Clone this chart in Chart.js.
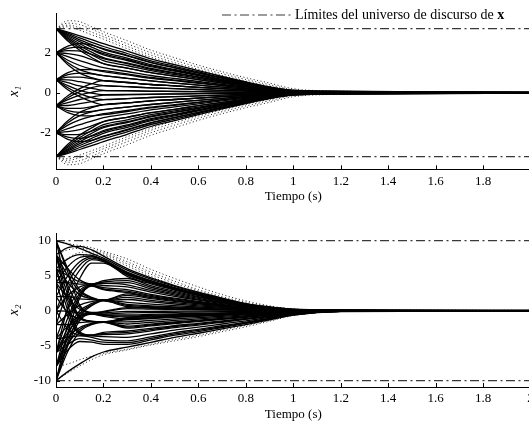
<!DOCTYPE html>
<html>
<head>
<meta charset="utf-8">
<script src="https://cdn.jsdelivr.net/npm/chart.js@4"></script>
<style>
  html, body { margin: 0; padding: 0; background: #fff; overflow: hidden; width: 529px; height: 422px; }
  canvas { position: absolute; left: 0; }
  #graficoX1 { top: 0; }
  #graficoX2 { top: 215px; }
</style>
</head>
<body>
<canvas id="graficoX1" width="545" height="206"></canvas>
<canvas id="graficoX2" width="545" height="207"></canvas>
<script>
// Eje de tiempo comun (s) y marcas
const tiempo = [0, 0.05, 0.1, 0.15, 0.2, 0.3, 0.4, 0.5, 0.6, 0.7, 0.8, 0.9, 1.0, 1.2, 1.5, 2.0];
const ticksTiempo = [0, 0.2, 0.4, 0.6, 0.8, 1, 1.2, 1.4, 1.6, 1.8, 2];
const ticksX1 = [-2, 0, 2];
const ticksX2 = [-10, -5, 0, 5, 10];
const limiteX1 = 3.2;
const limiteX2 = 10;
const textoLeyenda = "Límites del universo de discurso de";
const vectorLeyenda = "x";

// x1: trayectorias agrupadas por condicion inicial
const x1Desde32 = [
  [3.2, 3.03, 2.84, 2.65, 2.45, 2.08, 1.69, 1.4, 1.1, 0.81, 0.54, 0.29, 0.12, 0.07, 0.05, 0.03],
  [3.2, 2.98, 2.74, 2.52, 2.31, 1.96, 1.59, 1.32, 1.04, 0.76, 0.51, 0.28, 0.11, 0.065, 0.045, 0.025],
  [3.2, 2.92, 2.64, 2.40, 2.17, 1.84, 1.5, 1.24, 0.98, 0.72, 0.48, 0.26, 0.1, 0.06, 0.04, 0.02],
  [3.2, 2.86, 2.55, 2.28, 2.03, 1.73, 1.4, 1.16, 0.91, 0.67, 0.45, 0.24, 0.08, 0.02, 0.01, 0],
  [3.2, 2.80, 2.45, 2.15, 1.89, 1.61, 1.3, 1.08, 0.85, 0.62, 0.42, 0.23, 0.08, 0.02, 0.01, 0],
  [3.2, 2.73, 2.35, 2.03, 1.75, 1.49, 1.21, 1.0, 0.79, 0.58, 0.39, 0.21, 0.07, 0.02, 0.01, 0],
  [3.2, 2.66, 2.24, 1.9, 1.6, 1.36, 1.1, 0.91, 0.72, 0.53, 0.35, 0.19, 0.06, 0.02, 0.01, 0],
  [3.2, 2.58, 2.12, 1.76, 1.45, 1.23, 1.0, 0.83, 0.65, 0.48, 0.32, 0.17, 0.06, 0.01, 0.01, 0]
];
const x1Desde2 = [
  [2, 2.33, 2.45, 2.38, 2.2, 1.87, 1.52, 1.25, 0.99, 0.73, 0.48, 0.26, 0.09, 0.03, 0.01, 0],
  [2, 2.22, 2.28, 2.17, 1.95, 1.66, 1.35, 1.11, 0.88, 0.64, 0.43, 0.23, 0.08, 0.02, 0.01, 0],
  [2, 2.1, 2.08, 1.92, 1.7, 1.45, 1.17, 0.97, 0.77, 0.56, 0.37, 0.2, 0.07, 0.02, 0.01, 0],
  [2, 1.95, 1.85, 1.66, 1.45, 1.23, 1.0, 0.83, 0.65, 0.48, 0.32, 0.17, 0.06, 0.01, 0.01, 0],
  [2, 1.8, 1.6, 1.42, 1.25, 1.06, 0.86, 0.71, 0.56, 0.41, 0.28, 0.15, 0.05, 0.01, 0, 0],
  [2, 1.62, 1.36, 1.18, 1.05, 0.89, 0.72, 0.6, 0.47, 0.35, 0.23, 0.13, 0.04, 0.01, 0, 0],
  [2, 1.5, 1.15, 0.96, 0.85, 0.72, 0.59, 0.48, 0.38, 0.28, 0.19, 0.1, 0.03, 0.01, 0, 0],
  [2, 1.4, 0.98, 0.75, 0.6, 0.51, 0.41, 0.34, 0.27, 0.2, 0.13, 0.07, 0.02, 0.01, 0, 0]
];
const x1Desde065 = [
  [0.65, 1.0, 1.15, 1.16, 1.1, 0.94, 0.76, 0.63, 0.5, 0.36, 0.24, 0.13, 0.04, 0.01, 0, 0],
  [0.65, 0.9, 0.98, 0.94, 0.85, 0.72, 0.59, 0.48, 0.38, 0.28, 0.19, 0.1, 0.03, 0.01, 0, 0],
  [0.65, 0.78, 0.78, 0.7, 0.6, 0.51, 0.41, 0.34, 0.27, 0.2, 0.13, 0.07, 0.02, 0.01, 0, 0],
  [0.65, 0.64, 0.55, 0.45, 0.35, 0.3, 0.24, 0.2, 0.16, 0.12, 0.08, 0.04, 0.01, 0, 0, 0],
  [0.65, 0.5, 0.34, 0.22, 0.12, 0.1, 0.08, 0.07, 0.05, 0.04, 0.03, 0.01, 0, 0, 0, 0],
  [0.65, 0.35, 0.12, -0.02, -0.1, -0.09, -0.07, -0.06, -0.05, -0.03, -0.02, -0.01, 0, 0, 0, 0],
  [0.65, 0.25, -0.05, -0.25, -0.35, -0.3, -0.24, -0.2, -0.16, -0.12, -0.08, -0.04, -0.01, 0, 0, 0],
  [0.65, 0.15, -0.2, -0.45, -0.6, -0.51, -0.41, -0.34, -0.27, -0.2, -0.13, -0.07, -0.02, -0.01, 0, 0]
];
const x1DesdeM065 = [
  [-0.65, -1.0, -1.15, -1.16, -1.1, -0.94, -0.76, -0.63, -0.5, -0.36, -0.24, -0.13, -0.04, -0.01, 0, 0],
  [-0.65, -0.9, -0.98, -0.94, -0.85, -0.72, -0.59, -0.48, -0.38, -0.28, -0.19, -0.1, -0.03, -0.01, 0, 0],
  [-0.65, -0.78, -0.78, -0.7, -0.6, -0.51, -0.41, -0.34, -0.27, -0.2, -0.13, -0.07, -0.02, -0.01, 0, 0],
  [-0.65, -0.64, -0.55, -0.45, -0.35, -0.3, -0.24, -0.2, -0.16, -0.12, -0.08, -0.04, -0.01, 0, 0, 0],
  [-0.65, -0.5, -0.34, -0.22, -0.12, -0.1, -0.08, -0.07, -0.05, -0.04, -0.03, -0.01, 0, 0, 0, 0],
  [-0.65, -0.35, -0.12, 0.02, 0.1, 0.09, 0.07, 0.06, 0.05, 0.03, 0.02, 0.01, 0, 0, 0, 0],
  [-0.65, -0.25, 0.05, 0.25, 0.35, 0.3, 0.24, 0.2, 0.16, 0.12, 0.08, 0.04, 0.01, 0, 0, 0],
  [-0.65, -0.15, 0.2, 0.45, 0.6, 0.51, 0.41, 0.34, 0.27, 0.2, 0.13, 0.07, 0.02, 0.01, 0, 0]
];
const x1DesdeM2 = [
  [-2, -2.33, -2.45, -2.38, -2.2, -1.87, -1.52, -1.25, -0.99, -0.73, -0.48, -0.26, -0.09, -0.03, -0.01, 0],
  [-2, -2.22, -2.28, -2.17, -1.95, -1.66, -1.35, -1.11, -0.88, -0.64, -0.43, -0.23, -0.08, -0.02, -0.01, 0],
  [-2, -2.1, -2.08, -1.92, -1.7, -1.45, -1.17, -0.97, -0.77, -0.56, -0.37, -0.2, -0.07, -0.02, -0.01, 0],
  [-2, -1.95, -1.85, -1.66, -1.45, -1.23, -1.0, -0.83, -0.65, -0.48, -0.32, -0.17, -0.06, -0.01, -0.01, 0],
  [-2, -1.8, -1.6, -1.42, -1.25, -1.06, -0.86, -0.71, -0.56, -0.41, -0.28, -0.15, -0.05, -0.01, 0, 0],
  [-2, -1.62, -1.36, -1.18, -1.05, -0.89, -0.72, -0.6, -0.47, -0.35, -0.23, -0.13, -0.04, -0.01, 0, 0],
  [-2, -1.5, -1.15, -0.96, -0.85, -0.72, -0.59, -0.48, -0.38, -0.28, -0.19, -0.1, -0.03, -0.01, 0, 0],
  [-2, -1.4, -0.98, -0.75, -0.6, -0.51, -0.41, -0.34, -0.27, -0.2, -0.13, -0.07, -0.02, -0.01, 0, 0]
];
const x1DesdeM32 = [
  [-3.2, -3.03, -2.84, -2.65, -2.45, -2.08, -1.69, -1.4, -1.1, -0.81, -0.54, -0.29, -0.12, -0.07, -0.05, -0.03],
  [-3.2, -2.98, -2.74, -2.52, -2.31, -1.96, -1.59, -1.32, -1.04, -0.76, -0.51, -0.28, -0.11, -0.065, -0.045, -0.025],
  [-3.2, -2.92, -2.64, -2.40, -2.17, -1.84, -1.5, -1.24, -0.98, -0.72, -0.48, -0.26, -0.1, -0.06, -0.04, -0.02],
  [-3.2, -2.86, -2.55, -2.28, -2.03, -1.73, -1.4, -1.16, -0.91, -0.67, -0.45, -0.24, -0.08, -0.02, -0.01, 0],
  [-3.2, -2.80, -2.45, -2.15, -1.89, -1.61, -1.3, -1.08, -0.85, -0.62, -0.42, -0.23, -0.08, -0.02, -0.01, 0],
  [-3.2, -2.73, -2.35, -2.03, -1.75, -1.49, -1.21, -1.0, -0.79, -0.58, -0.39, -0.21, -0.07, -0.02, -0.01, 0],
  [-3.2, -2.66, -2.24, -1.9, -1.6, -1.36, -1.1, -0.91, -0.72, -0.53, -0.35, -0.19, -0.06, -0.02, -0.01, 0],
  [-3.2, -2.58, -2.12, -1.76, -1.45, -1.23, -1.0, -0.83, -0.65, -0.48, -0.32, -0.17, -0.06, -0.01, -0.01, 0]
];
// x1: trayectorias que salen de los limites (punteadas)
const x1Fuera = [
  [3.2, 3.6, 3.55, 3.3, 3.05, 2.6, 2.13, 1.75, 1.38, 1.05, 0.75, 0.48, 0.2, 0.08, 0.05, 0.03],
  [3.2, 3.48, 3.4, 3.18, 2.92, 2.45, 2.0, 1.62, 1.27, 0.95, 0.66, 0.4, 0.15, 0.075, 0.05, 0.03],
  [3.2, 3.38, 3.25, 3.03, 2.8, 2.32, 1.88, 1.5, 1.17, 0.86, 0.58, 0.33, 0.13, 0.07, 0.045, 0.025],
  [3.2, 3.3, 3.12, 2.9, 2.68, 2.2, 1.78, 1.4, 1.08, 0.78, 0.51, 0.27, 0.12, 0.065, 0.04, 0.02],
  [-3.2, -3.6, -3.55, -3.3, -3.05, -2.6, -2.13, -1.75, -1.38, -1.05, -0.75, -0.48, -0.2, -0.08, -0.05, -0.03],
  [-3.2, -3.48, -3.4, -3.18, -2.92, -2.45, -2.0, -1.62, -1.27, -0.95, -0.66, -0.4, -0.15, -0.075, -0.05, -0.03],
  [-3.2, -3.38, -3.25, -3.03, -2.8, -2.32, -1.88, -1.5, -1.17, -0.86, -0.58, -0.33, -0.13, -0.07, -0.045, -0.025],
  [-3.2, -3.3, -3.12, -2.9, -2.68, -2.2, -1.78, -1.4, -1.08, -0.78, -0.51, -0.27, -0.12, -0.065, -0.04, -0.02]
];

// x2: trayectorias agrupadas por el haz al que convergen
const x2GrupoA = [
  [10, 9.5, 8.9, 8.2, 7.5, 5.8, 4.52, 3.48, 2.55, 1.74, 0.99, 0.5, 0.2, 0.1, 0.07, 0.05],
  [8, 9.0, 9.2, 8.7, 7.8, 6.0, 4.68, 3.6, 2.64, 1.8, 1.02, 0.55, 0.22, 0.11, 0.08, 0.05],
  [6, 7.4, 8.0, 7.9, 7.3, 5.5, 4.29, 3.3, 2.42, 1.65, 0.94, 0.48, 0.19, 0.09, 0.06, 0.04],
  [4, 6.3, 7.6, 7.8, 7.25, 5.4, 4.21, 3.24, 2.38, 1.62, 0.92, 0.43, 0.13, 0.03, 0.01, 0],
  [2, 5.0, 7.0, 7.7, 7.2, 5.3, 4.13, 3.18, 2.33, 1.59, 0.9, 0.42, 0.13, 0.03, 0.01, 0],
  [0, 4.0, 6.5, 7.5, 7.1, 5.2, 4.06, 3.12, 2.29, 1.56, 0.88, 0.41, 0.13, 0.03, 0.01, 0],
  [-2, 2.8, 5.8, 7.3, 7.0, 5.1, 3.98, 3.06, 2.24, 1.53, 0.87, 0.41, 0.13, 0.03, 0.01, 0],
  [-6, 0.5, 4.6, 6.8, 6.8, 4.9, 3.82, 2.94, 2.16, 1.47, 0.83, 0.39, 0.12, 0.02, 0, 0]
];
const x2GrupoB = [
  [8, 6.0, 4.4, 3.8, 4.3, 4.6, 3.59, 2.76, 2.02, 1.38, 0.78, 0.37, 0.12, 0.02, 0, 0],
  [4, 4.0, 3.8, 3.8, 4.1, 4.3, 3.35, 2.58, 1.89, 1.29, 0.73, 0.34, 0.11, 0.02, 0, 0],
  [0, 2.2, 3.4, 3.8, 3.9, 4.0, 3.12, 2.4, 1.76, 1.2, 0.68, 0.32, 0.1, 0.02, 0, 0],
  [6, 5.0, 4.1, 3.75, 3.9, 3.7, 2.89, 2.22, 1.63, 1.11, 0.63, 0.3, 0.09, 0.02, 0, 0],
  [-4, 0.2, 2.9, 3.7, 3.6, 3.4, 2.65, 2.04, 1.5, 1.02, 0.58, 0.27, 0.09, 0.02, 0, 0],
  [-8, -2.0, 2.2, 3.6, 3.3, 3.0, 2.34, 1.8, 1.32, 0.9, 0.51, 0.24, 0.08, 0.02, 0, 0],
  [-6, -1.0, 2.5, 3.6, 3.1, 2.8, 2.18, 1.68, 1.23, 0.84, 0.48, 0.22, 0.07, 0.01, 0, 0],
  [-10, -3.2, 1.8, 3.5, 3.0, 2.6, 2.03, 1.56, 1.14, 0.78, 0.44, 0.21, 0.07, 0.01, 0, 0]
];
const x2GrupoC = [
  [8, 5.0, 2.7, 1.8, 1.5, 2.4, 1.87, 1.44, 1.06, 0.72, 0.41, 0.19, 0.06, 0.01, 0, 0],
  [10, 6.0, 3.0, 1.9, 1.5, 2.2, 1.72, 1.32, 0.97, 0.66, 0.37, 0.18, 0.06, 0.01, 0, 0],
  [6, 4.0, 2.3, 1.7, 1.5, 1.9, 1.48, 1.14, 0.84, 0.57, 0.32, 0.15, 0.05, 0.01, 0, 0],
  [2, 2.0, 1.7, 1.6, 1.5, 1.6, 1.25, 0.96, 0.7, 0.48, 0.27, 0.13, 0.04, 0.01, 0, 0],
  [-2, -0.5, 0.8, 1.3, 1.5, 1.2, 0.94, 0.72, 0.53, 0.36, 0.2, 0.1, 0.03, 0.01, 0, 0],
  [-6, -2.5, 0.0, 1.0, 1.5, 0.9, 0.7, 0.54, 0.4, 0.27, 0.15, 0.07, 0.02, 0, 0, 0],
  [-8, -3.5, -0.4, 0.85, 1.45, 0.75, 0.59, 0.45, 0.33, 0.23, 0.13, 0.06, 0.02, 0, 0, 0],
  [-10, -4.5, -0.8, 0.7, 1.4, 0.6, 0.47, 0.36, 0.26, 0.18, 0.1, 0.05, 0.02, 0, 0, 0]
];
const x2GrupoD = [
  [10, 5.5, 0.8, -0.25, -0.1, 0.45, 0.35, 0.27, 0.2, 0.14, 0.08, 0.04, 0.01, 0, 0, 0],
  [8, 3.6, 0.5, -0.3, -0.2, 0.3, 0.23, 0.18, 0.13, 0.09, 0.05, 0.02, 0.01, 0, 0, 0],
  [4, 1.8, 0.2, -0.35, -0.3, -0.1, -0.09, -0.07, -0.06, -0.05, -0.04, -0.03, -0.01, 0, 0, 0],
  [0, -0.1, -0.3, -0.4, -0.45, -0.3, -0.26, -0.22, -0.19, -0.15, -0.11, -0.08, -0.04, -0.01, 0, 0],
  [-4, -2.2, -0.7, -0.4, -0.55, -0.6, -0.52, -0.44, -0.37, -0.3, -0.23, -0.15, -0.07, -0.01, 0, 0],
  [-6, -3.1, -0.9, -0.42, -0.62, -0.75, -0.65, -0.55, -0.47, -0.38, -0.29, -0.19, -0.09, -0.02, 0, 0],
  [-8, -4.0, -1.1, -0.45, -0.7, -0.9, -0.78, -0.66, -0.56, -0.45, -0.34, -0.23, -0.11, -0.02, 0, 0],
  [-10, -5.0, -1.4, -0.5, -0.8, -1.2, -1.04, -0.88, -0.74, -0.6, -0.46, -0.3, -0.14, -0.02, 0, 0]
];
const x2GrupoE = [
  [10, 3.0, -0.8, -1.5, -1.6, -1.0, -0.87, -0.73, -0.62, -0.5, -0.38, -0.25, -0.12, -0.02, 0, 0],
  [8, 2.2, -0.9, -1.52, -1.6, -1.15, -1.0, -0.84, -0.71, -0.58, -0.44, -0.29, -0.14, -0.02, 0, 0],
  [6, 1.5, -1.0, -1.55, -1.6, -1.3, -1.13, -0.95, -0.81, -0.65, -0.49, -0.33, -0.16, -0.03, 0, 0],
  [2, -0.3, -1.2, -1.55, -1.6, -1.6, -1.39, -1.17, -0.99, -0.8, -0.61, -0.4, -0.19, -0.03, 0, 0],
  [-2, -2.0, -1.7, -1.6, -1.6, -1.9, -1.65, -1.39, -1.18, -0.95, -0.72, -0.48, -0.23, -0.04, -0.01, 0],
  [-6, -3.8, -2.4, -1.8, -1.6, -2.2, -1.91, -1.61, -1.36, -1.1, -0.84, -0.55, -0.26, -0.04, -0.01, 0],
  [-8, -4.8, -2.7, -1.9, -1.62, -2.35, -2.04, -1.72, -1.46, -1.18, -0.89, -0.59, -0.28, -0.05, -0.01, 0],
  [-10, -5.8, -3.0, -2.0, -1.65, -2.5, -2.18, -1.83, -1.55, -1.25, -0.95, -0.63, -0.3, -0.05, -0.01, 0]
];
const x2GrupoF = [
  [8, 0.8, -3.0, -3.5, -3.1, -2.9, -2.52, -2.12, -1.8, -1.45, -1.1, -0.73, -0.35, -0.06, -0.01, 0],
  [6, 0.0, -3.2, -3.5, -3.25, -3.1, -2.7, -2.26, -1.92, -1.55, -1.18, -0.78, -0.37, -0.07, -0.01, 0],
  [4, -0.8, -3.3, -3.5, -3.4, -3.3, -2.87, -2.41, -2.05, -1.65, -1.25, -0.83, -0.4, -0.07, -0.01, 0],
  [0, -2.6, -3.5, -3.6, -3.7, -3.8, -3.31, -2.77, -2.36, -1.9, -1.44, -0.95, -0.46, -0.08, -0.01, 0],
  [-4, -3.8, -3.6, -3.8, -4.2, -4.3, -3.74, -3.14, -2.67, -2.15, -1.63, -1.08, -0.52, -0.1, -0.06, -0.04],
  [-6, -4.8, -4.0, -4.2, -4.5, -4.55, -3.96, -3.32, -2.82, -2.28, -1.73, -1.14, -0.55, -0.1, -0.05, -0.03],
  [-8, -5.6, -4.4, -4.5, -4.8, -4.8, -4.18, -3.5, -2.98, -2.4, -1.82, -1.2, -0.58, -0.11, -0.07, -0.05],
  [-10, -8.7, -7.6, -6.6, -5.9, -5.2, -4.52, -3.8, -3.22, -2.6, -1.98, -1.3, -0.62, -0.12, -0.08, -0.05]
];
// x2: trayectorias que salen de los limites (punteadas)
const x2Fuera = [
  [10, 9.6, 9.3, 9.0, 8.5, 7.4, 5.9, 4.6, 3.4, 2.3, 1.4, 0.7, 0.25, 0.1, 0.07, 0.04],
  [8, 8.7, 8.9, 8.7, 8.3, 7.0, 5.5, 4.2, 3.0, 2.0, 1.2, 0.6, 0.2, 0.09, 0.06, 0.04],
  [6, 7.5, 8.3, 8.4, 8.1, 6.7, 5.2, 3.9, 2.8, 1.8, 1.0, 0.5, 0.15, 0.05, 0.02, 0],
  [4, 6.3, 7.6, 8.1, 7.9, 6.4, 4.9, 3.6, 2.5, 1.6, 0.9, 0.4, 0.1, 0.01, 0, 0],
  [-10, -8.9, -7.9, -7.0, -6.3, -5.6, -4.9, -4.3, -3.7, -3.0, -2.3, -1.5, -0.7, -0.12, -0.07, -0.04],
  [-8, -7.6, -7.0, -6.5, -6.1, -5.5, -4.8, -4.1, -3.5, -2.8, -2.1, -1.4, -0.65, -0.1, -0.05, -0.03]
];

// Estilos
const COLOR_TRAYECTORIA = "#000000";
const COLOR_LIMITE = "#3a3a3a";
const PATRON_LIMITE = [9, 3.5, 2, 3.5];
const FUENTE = "'Liberation Serif', 'DejaVu Serif', serif";

Chart.defaults.font.family = FUENTE;
Chart.defaults.font.size = 13;
Chart.defaults.color = "#000";

function serie(valores, punteada) {
    return {
        data: valores.map((v, i) => ({ x: tiempo[i], y: v })),
        borderColor: COLOR_TRAYECTORIA,
        borderWidth: punteada ? 0.9 : 1.3,
        borderDash: punteada ? [1, 2.5] : [],
        pointRadius: 0,
        cubicInterpolationMode: "monotone",
        fill: false
    };
}

function limite(valor) {
    return {
        label: textoLeyenda,
        data: [{ x: tiempo[0], y: valor }, { x: tiempo[tiempo.length - 1], y: valor }],
        borderColor: COLOR_LIMITE,
        borderWidth: 1.2,
        borderDash: PATRON_LIMITE,
        pointRadius: 0,
        fill: false
    };
}

// Marcas de los ejes hacia adentro
const marcasInternas = {
    id: "marcasInternas",
    afterDraw(chart) {
        const { ctx, chartArea, scales } = chart;
        ctx.save();
        ctx.strokeStyle = "#000";
        ctx.lineWidth = 1;
        ctx.beginPath();
        scales.x.ticks.forEach(t => {
            const px = Math.round(scales.x.getPixelForValue(t.value)) + 0.5;
            ctx.moveTo(px, chartArea.bottom);
            ctx.lineTo(px, chartArea.bottom - 4);
        });
        scales.y.ticks.forEach(t => {
            const py = Math.round(scales.y.getPixelForValue(t.value)) + 0.5;
            ctx.moveTo(chartArea.left, py);
            ctx.lineTo(chartArea.left + 4, py);
        });
        ctx.stroke();
        ctx.restore();
    }
};

// Leyenda con la x en negrita
const leyenda = {
    id: "leyenda",
    afterDraw(chart) {
        const ctx = chart.ctx;
        const y = 15;
        ctx.save();
        ctx.strokeStyle = COLOR_LIMITE;
        ctx.lineWidth = 1.2;
        ctx.setLineDash(PATRON_LIMITE);
        ctx.beginPath();
        ctx.moveTo(222, y);
        ctx.lineTo(292, y);
        ctx.stroke();
        ctx.setLineDash([]);
        ctx.fillStyle = "#000";
        ctx.textBaseline = "middle";
        ctx.font = "14px " + FUENTE;
        const texto = textoLeyenda + " ";
        ctx.fillText(texto, 295, y);
        const ancho = ctx.measureText(texto).width;
        ctx.font = "bold 14px " + FUENTE;
        ctx.fillText(vectorLeyenda, 295 + ancho, y);
        ctx.restore();
    }
};

function crearGrafico(canvasId, grupos, fuera, lim, ticksY, minY, maxY, tituloY, opciones) {
    const datasets = [];
    grupos.forEach(g => g.forEach(v => datasets.push(serie(v, false))));
    fuera.forEach(v => datasets.push(serie(v, true)));
    datasets.push(limite(lim));
    datasets.push(limite(-lim));

    return new Chart(canvasId, {
        type: "line",
        data: { datasets: datasets },
        options: {
            responsive: false,
            animation: false,
            devicePixelRatio: 1,
            layout: { padding: opciones.padding },
            plugins: { legend: { display: false }, tooltip: { enabled: false } },
            scales: {
                x: {
                    type: "linear",
                    min: 0,
                    max: 2,
                    grid: { display: false, drawTicks: false },
                    border: { display: true, color: "#000", width: 1 },
                    afterBuildTicks: s => { s.ticks = ticksTiempo.map(v => ({ value: v })); },
                    afterFit: s => { s.height = opciones.altoX; },
                    ticks: {
                        padding: 4,
                        maxRotation: 0,
                        autoSkip: false,
                        callback: v => (opciones.ocultarDos && v === 2) ? "" : String(v)
                    },
                    title: { display: true, text: "Tiempo (s)", padding: { top: 0, bottom: opciones.padTitulo } }
                },
                y: {
                    min: minY,
                    max: maxY,
                    grid: { display: false, drawTicks: false },
                    border: { display: true, color: "#000", width: 1 },
                    afterBuildTicks: s => { s.ticks = ticksY.map(v => ({ value: v })); },
                    afterFit: s => { s.width = 56; },
                    ticks: { padding: 5, autoSkip: false },
                    title: { display: true, text: tituloY, font: { style: "italic", size: 14 }, padding: { top: 6, bottom: 0 } }
                }
            }
        },
        plugins: opciones.conLeyenda ? [marcasInternas, leyenda] : [marcasInternas]
    });
}

crearGrafico("graficoX1",
    [x1Desde32, x1Desde2, x1Desde065, x1DesdeM065, x1DesdeM2, x1DesdeM32],
    x1Fuera, limiteX1, ticksX1, -3.83, 3.97, "x₁",
    { padding: { top: 13.3, right: 14.4, left: 0, bottom: 0 }, altoX: 36.7, padTitulo: 1.7, ocultarDos: true, conLeyenda: true });

crearGrafico("graficoX2",
    [x2GrupoA, x2GrupoB, x2GrupoC, x2GrupoD, x2GrupoE, x2GrupoF],
    x2Fuera, limiteX2, ticksX2, -10.9, 11.1, "x₂",
    { padding: { top: 18, right: 14.4, left: 0, bottom: 0 }, altoX: 35, padTitulo: 0, ocultarDos: false, conLeyenda: false });
</script>
</body>
</html>
